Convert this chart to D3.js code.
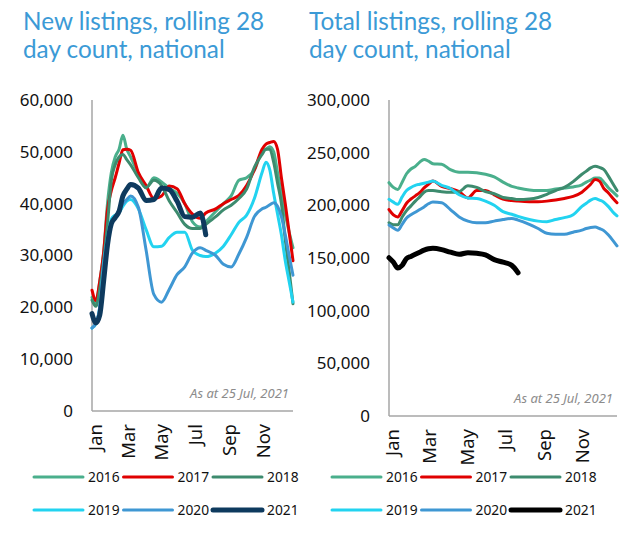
<!DOCTYPE html>
<html>
<head>
<meta charset="utf-8">
<script src="https://cdn.jsdelivr.net/npm/d3@7"></script>
<style>
  body { margin: 0; background: #fff; }
  svg { font-family: "Lato", "Noto Sans", sans-serif; }
  .title { fill: #3b9ad6; font-size: 24.3px; }
  .axis path { stroke: #a6a6a6; stroke-width: 1.5px; }
  .axis text { fill: #111; font-family: "Noto Sans", sans-serif; }
  .note { fill: #8c8c8c; font-style: italic; font-size: 13px; font-family: "Noto Sans", sans-serif; }
  .legend text { font-size: 13.8px; fill: #111; font-family: "Noto Sans", sans-serif; }
</style>
</head>
<body>
<script>
// day of year for each point (shared by every series)
var days = [0, 7, 14, 21, 28, 35, 42, 49, 56, 63, 70, 84, 98, 112, 126, 140, 154, 168, 182, 196, 206,
            224, 238, 252, 266, 280, 294, 308, 315, 322, 329, 336, 343, 350, 357, 364];

var years = ["2016", "2017", "2018", "2019", "2020", "2021"];

var monthDays = [0, 59, 120, 181, 243, 304];
var monthLabels = ["Jan", "Mar", "May", "Jul", "Sep", "Nov"];

var newTicks = [0, 10000, 20000, 30000, 40000, 50000, 60000];
var totalTicks = [0, 50000, 100000, 150000, 200000, 250000, 300000];

// new listings, rolling 28 day count
var new2016 = [21900, 20500, 25000, 30500, 40000, 46000, 49000, 50500, 53200, 50500, 49000, 45800, 43000, 45000, 44200, 43000, 42000, 40000, 36500, 35500, 36500,
               38500, 40000, 41500, 44500, 45000, 46500, 50000, 50500, 51000, 50000, 46000, 42000, 38000, 34500, 31500];
var new2017 = [23300, 21300, 25000, 30500, 38800, 42500, 45000, 47800, 50400, 50500, 50300, 46000, 43500, 41000, 41500, 43400, 42900, 40000, 38000, 37200, 38200,
               39000, 40000, 40800, 41600, 43500, 46500, 50500, 51500, 51800, 52000, 50500, 45000, 40000, 34500, 29000];
var new2018 = [21400, 20200, 23500, 29000, 36000, 44500, 47500, 49000, 49500, 48500, 47500, 45000, 43100, 44500, 43500, 40500, 38300, 36000, 35200, 35200, 36000,
               37500, 38800, 39700, 41000, 42800, 47000, 49500, 50500, 50500, 48000, 44000, 40000, 33000, 27000, 20700];
var new2019 = [16000, 16800, 20000, 28000, 33500, 37000, 37800, 38300, 39500, 40500, 40800, 39000, 35000, 31700, 31800, 33500, 34500, 34500, 31000, 30000, 29800,
               30500, 31800, 34000, 36400, 37800, 41000, 46000, 48000, 46500, 42000, 38000, 34000, 29000, 25000, 21000];
var new2020 = [16000, 17000, 20000, 28000, 33000, 36300, 37500, 38800, 40000, 40800, 41500, 39300, 31000, 22500, 21000, 23500, 26300, 27800, 30500, 31500, 31000,
               30000, 28300, 27800, 30300, 33500, 37500, 39000, 39300, 39800, 40200, 39500, 37500, 34000, 30000, 26200];
var new2021 = [18800, 17000, 18500, 25000, 32000, 36100, 37300, 38500, 41500, 42800, 43700, 43000, 40600, 40800, 43000, 42700, 40500, 37500, 37400, 38200, 34000];

// total listings, rolling 28 day count
var total2016 = [221500, 217000, 215000, 222000, 230000, 234500, 237000, 241000, 243500, 242000, 239500, 239000, 234000, 231500, 231500, 231000, 229500, 227000, 222000, 218000, 216500,
                 214500, 214000, 214000, 215500, 216500, 217500, 219500, 222000, 224000, 226000, 226000, 222000, 217000, 213000, 209000];
var total2017 = [196000, 191000, 189000, 195000, 202000, 206000, 209000, 212000, 216500, 220000, 223000, 218000, 216000, 213000, 207000, 214000, 214000, 210000, 206000, 204500, 204000,
                 203500, 203500, 204000, 205000, 206500, 208500, 212500, 216000, 220000, 224500, 223000, 216000, 212000, 207000, 202500];
var total2018 = [183500, 181500, 181500, 189000, 195000, 199500, 204000, 208000, 212500, 214000, 214000, 213000, 212500, 213000, 218500, 217000, 213000, 211000, 207500, 206500, 205500,
                 206000, 207500, 210500, 214000, 217000, 222500, 229500, 232500, 235500, 237000, 236000, 234000, 228000, 221000, 214000];
var total2019 = [205700, 203000, 201000, 208000, 214000, 217000, 219000, 220000, 221000, 222000, 223000, 219000, 216000, 210000, 207000, 206500, 204000, 200000, 194000, 191500, 189500,
                 186500, 185000, 184500, 186500, 188300, 191000, 199000, 202000, 205000, 206500, 205000, 203000, 199000, 194000, 190000];
var total2020 = [181300, 178500, 176300, 182000, 188000, 191000, 193500, 196000, 198500, 201500, 203200, 202500, 196000, 189000, 185000, 183500, 183500, 185000, 186500, 187500, 186000,
                 182000, 178000, 173500, 172500, 172500, 174500, 176500, 178000, 179000, 179400, 178000, 176000, 172000, 167000, 161500];
var total2021 = [150300, 146000, 140500, 143000, 149500, 151500, 153500, 155500, 157500, 158800, 159200, 158000, 155500, 153500, 155000, 154500, 153000, 148500, 146000, 143000, 136000];

var width = 639, height = 534;

var svg = d3.select("body").append("svg")
    .attr("width", width)
    .attr("height", height);

//draw one of the two panels
function drawPanel(opts){
    var x = d3.scaleLinear().domain([0, 364]).range([opts.left, opts.right]);
    var y = d3.scaleLinear().domain([0, opts.max]).range([opts.bottom, opts.top]);

    var g = svg.append("g");

    //title, two lines
    g.selectAll(".title")
        .data(opts.title)
        .enter()
        .append("text")
        .attr("class", "title")
        .attr("x", opts.titleX)
        .attr("y", function(d, i){ return 30 + i * 28; })
        .text(function(d){ return d; });

    //y axis, no tick marks
    var yAxis = g.append("g")
        .attr("class", "axis")
        .attr("transform", "translate(" + opts.left + ",0)")
        .call(d3.axisLeft(y).tickValues(opts.ticks).tickSize(0).tickPadding(19).tickFormat(d3.format(",")));
    yAxis.selectAll("text").style("font-size", "17px");
    yAxis.select(".domain").attr("d", "M0," + opts.top + "V" + opts.bottom);

    //x axis with rotated month labels
    var xAxis = g.append("g")
        .attr("class", "axis")
        .attr("transform", "translate(0," + opts.bottom + ")")
        .call(d3.axisBottom(x).tickValues(monthDays).tickSize(0)
            .tickFormat(function(d, i){ return monthLabels[i]; }));
    xAxis.selectAll("text")
        .style("font-size", "18.5px")
        .attr("transform", "rotate(-90)")
        .attr("text-anchor", "end")
        .attr("x", -13)
        .attr("y", 3)
        .attr("dy", "0.35em");
    xAxis.select(".domain").attr("d", "M" + opts.left + ",0H" + opts.right);

    //note
    g.append("text")
        .attr("class", "note")
        .attr("x", opts.right - 4)
        .attr("y", opts.bottom - 13)
        .attr("text-anchor", "end")
        .text("As at 25 Jul, 2021");

    var line = d3.line()
        .x(function(d, i){ return x(days[i]); })
        .y(function(d){ return y(d); })
        .curve(d3.curveMonotoneX);

    //draw earlier years first so 2021 sits on top
    opts.series.forEach(function(values, i){
        g.append("path")
            .datum(values)
            .attr("fill", "none")
            .attr("stroke", opts.colors[i])
            .attr("stroke-width", i == 5 ? 5 : 3)
            .attr("stroke-linejoin", "round")
            .attr("stroke-linecap", "round")
            .attr("d", line);
    });

    //legend, 2 rows of 3
    var legend = g.selectAll(".legend")
        .data(years)
        .enter()
        .append("g")
        .attr("class", "legend")
        .attr("transform", function(d, i){
            return "translate(" + (opts.legendX + (i % 3) * 89.5) + "," + (477 + Math.floor(i / 3) * 33) + ")";
        });
    legend.append("line")
        .attr("x1", 0).attr("x2", 49)
        .attr("stroke", function(d, i){ return opts.colors[i]; })
        .attr("stroke-width", function(d, i){ return i == 5 ? 5 : 3; })
        .attr("stroke-linecap", "round");
    legend.append("text")
        .attr("x", 54)
        .attr("y", 5)
        .text(function(d){ return d; });
}

var baseColors = ["#4aaf8c", "#e00000", "#3d8b6e", "#22d3f0", "#3f97d3"];

drawPanel({
    title: ["New listings, rolling 28", "day count, national"],
    titleX: 23,
    left: 92, right: 293, top: 100, bottom: 411,
    max: 60000,
    ticks: newTicks,
    series: [new2016, new2017, new2018, new2019, new2020, new2021],
    colors: baseColors.concat(["#0e3a5e"]),
    legendX: 34
});

drawPanel({
    title: ["Total listings, rolling 28", "day count, national"],
    titleX: 309,
    left: 389, right: 617, top: 100, bottom: 416,
    max: 300000,
    ticks: totalTicks,
    series: [total2016, total2017, total2018, total2019, total2020, total2021],
    colors: baseColors.concat(["#000000"]),
    legendX: 332
});
</script>
</body>
</html>
